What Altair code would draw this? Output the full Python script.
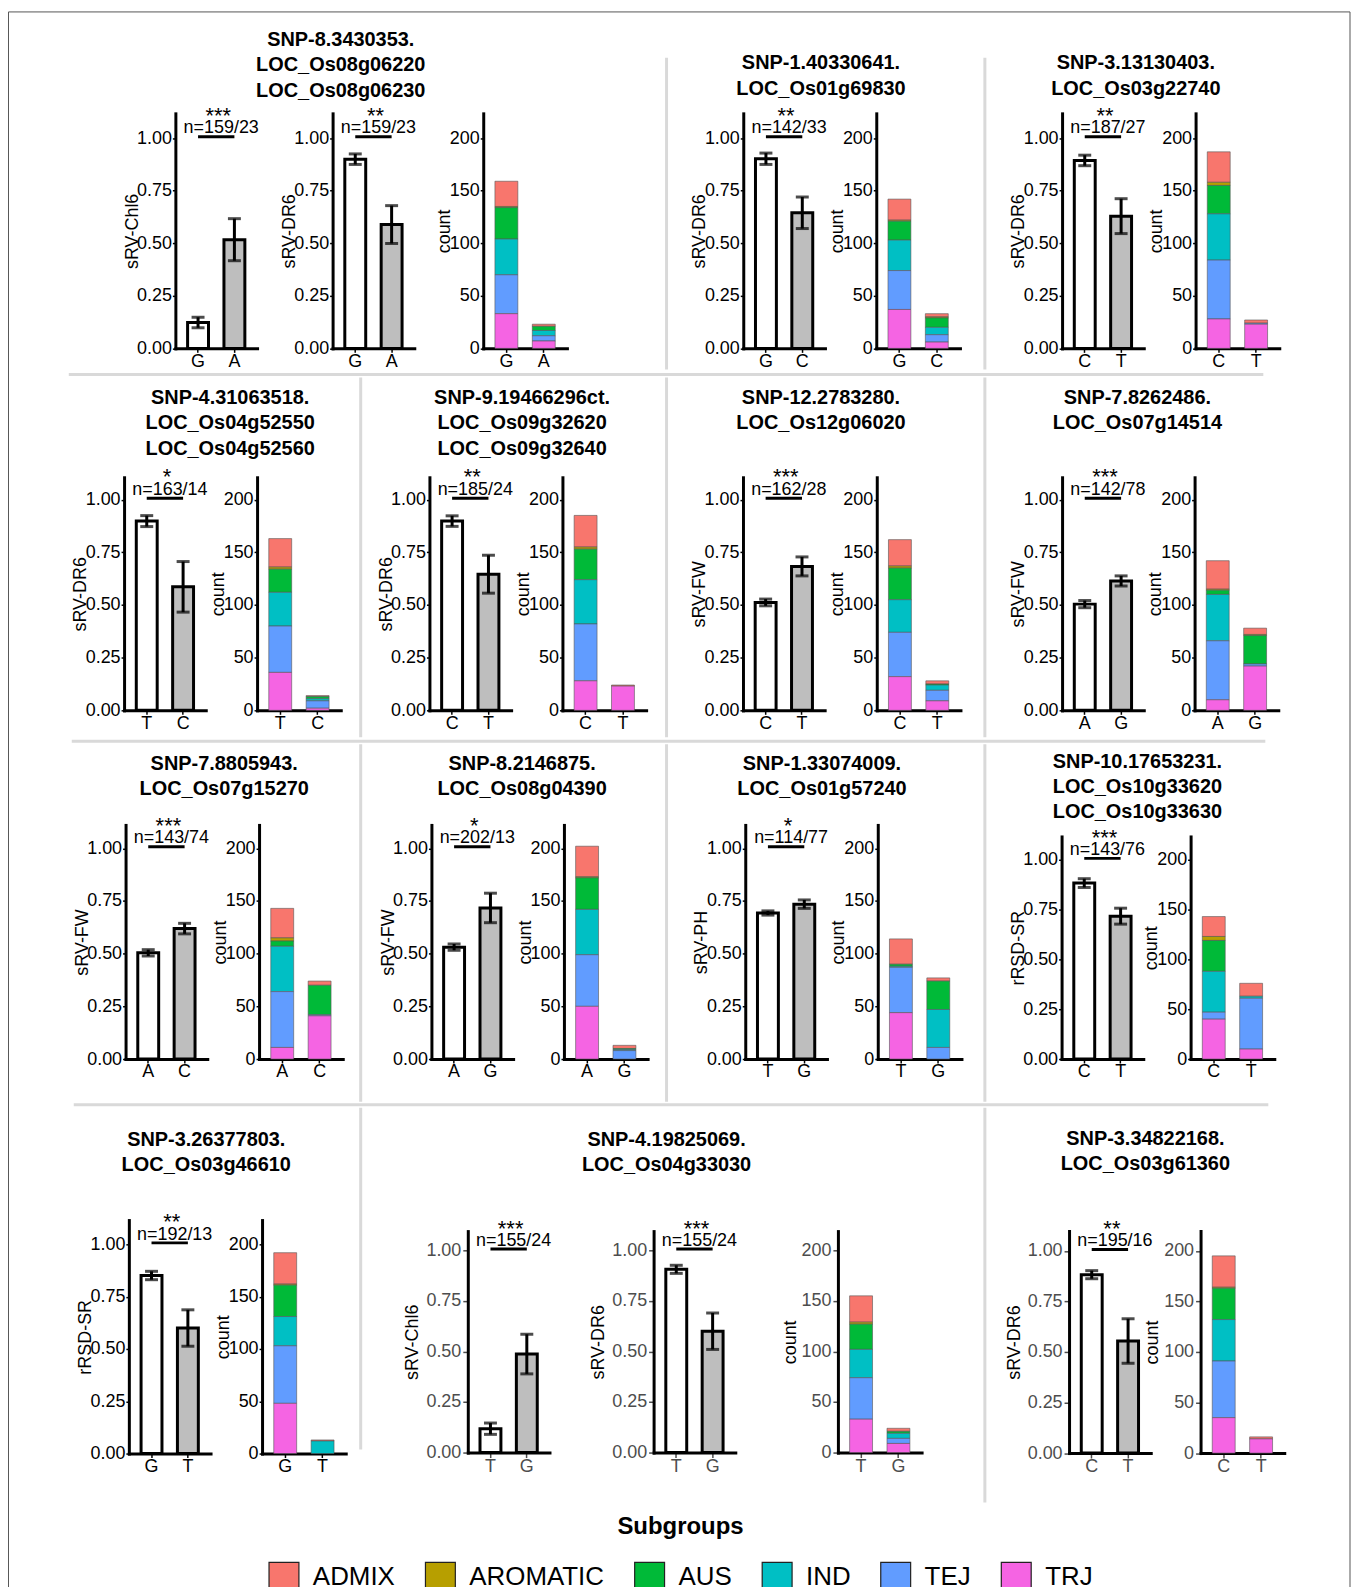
import altair as alt
import pandas as pd

# ---------------- data ----------------
panel_titles = [
    ["SNP-8.3430353.", "LOC_Os08g06220", "LOC_Os08g06230"],
    ["SNP-1.40330641.", "LOC_Os01g69830"],
    ["SNP-3.13130403.", "LOC_Os03g22740"],
    ["SNP-4.31063518.", "LOC_Os04g52550", "LOC_Os04g52560"],
    ["SNP-9.19466296ct.", "LOC_Os09g32620", "LOC_Os09g32640"],
    ["SNP-12.2783280.", "LOC_Os12g06020"],
    ["SNP-7.8262486.", "LOC_Os07g14514"],
    ["SNP-7.8805943.", "LOC_Os07g15270"],
    ["SNP-8.2146875.", "LOC_Os08g04390"],
    ["SNP-1.33074009.", "LOC_Os01g57240"],
    ["SNP-10.17653231.", "LOC_Os10g33620", "LOC_Os10g33630"],
    ["SNP-3.26377803.", "LOC_Os03g46610"],
    ["SNP-4.19825069.", "LOC_Os04g33030"],
    ["SNP-3.34822168.", "LOC_Os03g61360"],
]
allele_1 = ["G", "G", "C", "T", "C", "C", "A", "A", "A", "T", "C", "G", "T", "C"]
allele_2 = ["A", "C", "T", "C", "T", "T", "G", "C", "G", "G", "T", "T", "G", "T"]
n_allele_1 = [159, 142, 187, 163, 185, 162, 142, 143, 202, 114, 143, 192, 155, 195]
n_allele_2 = [23, 33, 27, 14, 24, 28, 78, 74, 13, 77, 76, 13, 24, 16]

trait_panel = [0, 0, 1, 2, 3, 4, 5, 6, 7, 8, 9, 10, 11, 12, 12, 13]
trait_name = ["sRV-Chl6", "sRV-DR6", "sRV-DR6", "sRV-DR6", "sRV-DR6", "sRV-DR6",
              "sRV-FW", "sRV-FW", "sRV-FW", "sRV-FW", "sRV-PH", "rRSD-SR",
              "rRSD-SR", "sRV-Chl6", "sRV-DR6", "sRV-DR6"]
trait_mean_1 = [0.123, 0.900, 0.902, 0.894, 0.898, 0.898, 0.512, 0.504,
                0.504, 0.531, 0.693, 0.883, 0.851, 0.118, 0.906, 0.882]
trait_se_1 = [0.025, 0.025, 0.027, 0.025, 0.026, 0.025, 0.016, 0.017,
              0.015, 0.015, 0.010, 0.022, 0.020, 0.028, 0.020, 0.020]
trait_mean_2 = [0.517, 0.589, 0.645, 0.629, 0.586, 0.646, 0.683, 0.614,
                0.619, 0.717, 0.735, 0.717, 0.600, 0.487, 0.600, 0.554]
trait_se_2 = [0.100, 0.090, 0.075, 0.083, 0.120, 0.090, 0.045, 0.024,
              0.025, 0.070, 0.020, 0.040, 0.087, 0.098, 0.090, 0.110]
trait_stars = ["***", "**", "**", "**", "*", "**", "***", "***",
               "***", "*", "*", "***", "**", "***", "***", "**"]

subgroups = ["ADMIX", "AROMATIC", "AUS", "IND", "TEJ", "TRJ"]
subgroup_colors = ["#F8766D", "#B79F00", "#00BA38", "#00BFC4", "#619CFF", "#F564E3"]
# counts per subgroup (ADMIX, AROMATIC, AUS, IND, TEJ, TRJ)
count_allele_1 = [
    [24, 1, 30, 34, 37, 33], [20, 1, 18, 29, 37, 37], [29, 3, 27, 44, 56, 28],
    [27, 2, 22, 32, 44, 36], [30, 2, 29, 42, 54, 28], [25, 2, 30, 31, 42, 32],
    [27, 1, 4, 44, 56, 10], [28, 3, 5, 43, 53, 11], [29, 1, 30, 43, 49, 50],
    [24, 0, 2, 1, 43, 44], [20, 4, 31, 41, 7, 40], [30, 1, 30, 28, 55, 48],
    [26, 2, 25, 28, 41, 33], [31, 1, 31, 41, 56, 35],
]
count_allele_2 = [
    [2, 0, 4, 5, 5, 7], [3, 1, 9, 7, 7, 6], [3, 0, 0, 0, 1, 23],
    [1, 0, 2, 2, 7, 2], [1, 0, 0, 0, 0, 23], [3, 0, 1, 5, 10, 9],
    [6, 1, 27, 0, 2, 42], [4, 0, 28, 0, 1, 41], [3, 0, 1, 1, 8, 0],
    [3, 0, 27, 36, 11, 0], [13, 0, 0, 2, 51, 10], [1, 0, 0, 12, 0, 0],
    [3, 0, 2, 5, 5, 9], [2, 0, 0, 0, 0, 14],
]

# ---------------- layout (pixel positions in the reference image) ----------------
OX = 8          # page margin
W_CHART = 1349
H = 1579

panel_title_x = [342, 824, 1140, 231, 524, 824, 1141.6, 225, 524, 825, 1141.6, 207, 669, 1149.6]
panel_title_y = [37.3, 60.7, 60.7, 396.7, 396.7, 396.7, 396.7, 764, 764, 764, 761.7,
                 1141.5, 1141.5, 1140.5]
TITLE_LINE = 25.3
panel_y0 = [346.7] * 3 + [710] * 4 + [1060] * 4 + [1456, 1455, 1455.5]
panel_y1 = [135.7] * 3 + [498.5] * 4 + [848.5] * 3 + [860] + [1246, 1252, 1252.5]
panel_top = [1.118] * 3 + [1.106] * 4 + [1.111] * 3 + [1.117] + [1.116, 1.095, 1.098]
panel_grey = [False] * 12 + [True, True]
trait_axis_x = [176, 333.8, 746, 1066, 124.5, 431, 745.7, 1066, 126, 433, 748, 1065.5,
                129.3, 469.5, 656, 1073]
count_axis_x = [485, 879.5, 1200, 258, 564.5, 880, 1199, 260, 566, 881, 1195, 263, 841, 1205]

separators = [
    (669, 55, 669, 368), (988.5, 55, 988.5, 368),
    (69, 373, 1268, 373),
    (362, 376, 362, 737), (669, 376, 669, 737), (988.5, 376, 988.5, 737),
    (72, 741, 1270, 741),
    (362, 744, 362, 1103), (669, 744, 669, 1103), (988.5, 744, 988.5, 1103),
    (74, 1106, 1273, 1106),
    (362, 1109, 362, 1452), (988.5, 1109, 988.5, 1505),
]
frame = [(8.5, 9, 8.5, 1600), (8.5, 9, 1355, 9), (1355, 9, 1355, 1600)]

W_M, PI_M, PO_M = 82, 0.425, 0.336
W_C, PI_C, PO_C = 84, 0.387, 0.313
STEP_M = W_M / (2 - PI_M + 2 * PO_M)


def c(v):
    return v - OX


def x_axis(y0c, grey):
    col = "#4d4d4d" if grey else "black"
    return alt.Axis(orient="bottom", offset=y0c - H, title=None, labelAngle=0,
                    labelFontSize=18, labelColor=col, tickColor=col,
                    tickSize=5 if grey else 4, tickWidth=1.5, labelPadding=0,
                    domainColor="black", domainWidth=3, domainCap="square", grid=False)


def y_axis(x0c, title, values, fmt, title_x, grey):
    col = "#4d4d4d" if grey else "black"
    return alt.Axis(orient="left", offset=-x0c, title=title, values=values, format=fmt,
                    titleX=title_x, titleBaseline="alphabetic", titleFontSize=18,
                    titleFontWeight="normal", titleColor="black",
                    labelFontSize=18, labelColor=col, tickColor=col,
                    tickSize=5 if grey else 3, tickWidth=1.5,
                    labelPadding=2 if grey else 1,
                    domainColor="black", domainWidth=3, domainCap="square", grid=False)


legend = alt.Legend(orient="none", legendX=c(269), legendY=c(1518), direction="horizontal",
                    title="Subgroups", titleFontSize=24, titleFontWeight="bold",
                    titleColor="black", titleAnchor="middle", titleOrient="top",
                    titlePadding=22, labelFontSize=26, labelColor="black", labelOffset=13,
                    symbolType="square", symbolSize=900, symbolStrokeColor="#222222",
                    symbolStrokeWidth=1.2, symbolOpacity=1, columnPadding=27, padding=0)

layers = []

# frame and separators
seg_df = pd.DataFrame(
    [{"x": c(a), "y": c(b), "x2": c(cc), "y2": c(d)} for a, b, cc, d in separators]
)
frame_df = pd.DataFrame(
    [{"x": c(a), "y": c(b), "x2": c(cc), "y2": c(d)} for a, b, cc, d in frame]
)
layers.append(alt.Chart(frame_df).mark_rule(color="#555555", strokeWidth=1).encode(
    x=alt.X("x:Q", scale=None, axis=None), y=alt.Y("y:Q", scale=None, axis=None),
    x2="x2:Q", y2="y2:Q"))
layers.append(alt.Chart(seg_df).mark_rule(color="#d9d9d9", strokeWidth=3).encode(
    x=alt.X("x:Q", scale=None, axis=None), y=alt.Y("y:Q", scale=None, axis=None),
    x2="x2:Q", y2="y2:Q"))

# panel titles
title_rows = []
for p, lines in enumerate(panel_titles):
    for i, line in enumerate(lines):
        title_rows.append({"text": line, "x": c(panel_title_x[p]),
                           "y": c(panel_title_y[p] + i * TITLE_LINE)})
layers.append(alt.Chart(pd.DataFrame(title_rows)).mark_text(
    fontSize=20, fontWeight="bold", color="black", baseline="middle", align="center").encode(
    x=alt.X("x:Q", scale=None, axis=None), y=alt.Y("y:Q", scale=None, axis=None),
    text="text:N"))

# mean +/- se subplots
for t in range(len(trait_panel)):
    p = trait_panel[t]
    a1, a2 = allele_1[p], allele_2[p]
    m1, m2, e1, e2 = trait_mean_1[t], trait_mean_2[t], trait_se_1[t], trait_se_2[t]
    df = pd.DataFrame({
        "allele": [a1, a2], "idx": [0, 1],
        "mean": [m1, m2], "lo": [m1 - e1, m2 - e2], "hi": [m1 + e1, m2 + e2],
        "ntext": [f"n={n_allele_1[p]}/{n_allele_2[p]}"] * 2,
        "stars": [trait_stars[t]] * 2,
    })
    x0 = c(trait_axis_x[t])
    y0, y1, top = c(panel_y0[p]), c(panel_y1[p]), panel_top[p]
    xs = alt.Scale(type="band", domain=[a1, a2], range=[x0, x0 + W_M],
                   paddingInner=PI_M, paddingOuter=PO_M)
    ys = alt.Scale(domain=[0, top], range=[y0, y0 - top * (y0 - y1)], nice=False, zero=False)
    xa = x_axis(y0, panel_grey[p])
    ya = y_axis(x0, trait_name[t], [0, 0.25, 0.5, 0.75, 1.0], ".2f",
                -50 if panel_grey[p] else -38.5, panel_grey[p])

    def X():
        return alt.X("allele:N", scale=xs, axis=xa)

    def Y(field=None, datum=None):
        if datum is not None:
            return alt.Y(datum=datum, type="quantitative", scale=ys, axis=ya)
        return alt.Y(field, scale=ys, axis=ya)

    base = alt.Chart(df)
    bars = base.mark_bar(stroke="black", strokeWidth=3).encode(
        x=X(), y=Y("mean:Q"),
        fill=alt.condition("datum.idx == 0", alt.value("white"), alt.value("#bebebe")))
    err = base.mark_rule(color="black", strokeWidth=3).encode(x=X(), y=Y("lo:Q"), y2="hi:Q")
    cap_lo = base.mark_tick(color="black", size=13, thickness=3).encode(x=X(), y=Y("lo:Q"))
    cap_hi = base.mark_tick(color="black", size=13, thickness=3).encode(x=X(), y=Y("hi:Q"))
    sig = base.mark_line(color="black", strokeWidth=3).encode(x=X(), y=Y(datum=1.007))
    ntxt = base.transform_filter("datum.idx == 0").mark_text(
        fontSize=18, color="black", baseline="alphabetic", align="center",
        dx=STEP_M / 2 + 5).encode(x=X(), y=Y(datum=1.023), text="ntext:N")
    star = base.transform_filter("datum.idx == 0").mark_text(
        fontSize=22, color="black", baseline="alphabetic", align="center",
        dx=STEP_M / 2 + 2).encode(x=X(), y=Y(datum=1.073), text="stars:N")
    layers.append(alt.layer(bars, err, cap_lo, cap_hi, sig, ntxt, star))

# stacked count subplots
for p in range(len(panel_titles)):
    rows = []
    for idx, (al, counts) in enumerate([(allele_1[p], count_allele_1[p]),
                                        (allele_2[p], count_allele_2[p])]):
        for g, (sg, n) in enumerate(zip(subgroups, counts)):
            if n > 0:
                rows.append({"allele": al, "idx": idx, "subgroup": sg, "ord": g, "n": n})
    df = pd.DataFrame(rows)
    x0 = c(count_axis_x[p])
    y0, y1, top = c(panel_y0[p]), c(panel_y1[p]), panel_top[p]
    xs = alt.Scale(type="band", domain=[allele_1[p], allele_2[p]], range=[x0, x0 + W_C],
                   paddingInner=PI_C, paddingOuter=PO_C)
    ys = alt.Scale(domain=[0, 200 * top], range=[y0, y0 - top * (y0 - y1)],
                   nice=False, zero=False)
    layers.append(alt.Chart(df).mark_bar(stroke="#555555", strokeWidth=0.6).encode(
        x=alt.X("allele:N", scale=xs, axis=x_axis(y0, panel_grey[p])),
        y=alt.Y("n:Q", stack="zero", scale=ys,
                axis=y_axis(x0, "count", [0, 50, 100, 150, 200], "d",
                            -43 if panel_grey[p] else -34, panel_grey[p])),
        color=alt.Color("subgroup:N",
                        scale=alt.Scale(domain=subgroups, range=subgroup_colors),
                        legend=legend),
        order=alt.Order("ord:Q", sort="descending"),
    ))

chart = alt.layer(*layers).resolve_scale(
    x="independent", y="independent"
).resolve_axis(
    x="independent", y="independent"
).properties(
    width=W_CHART, height=H, padding=0,
    autosize=alt.AutoSizeParams(type="none"),
).configure(font="Liberation Sans").configure_view(stroke=None)

chart.save("out.html", embed_options={"renderer": "svg", "actions": False})
